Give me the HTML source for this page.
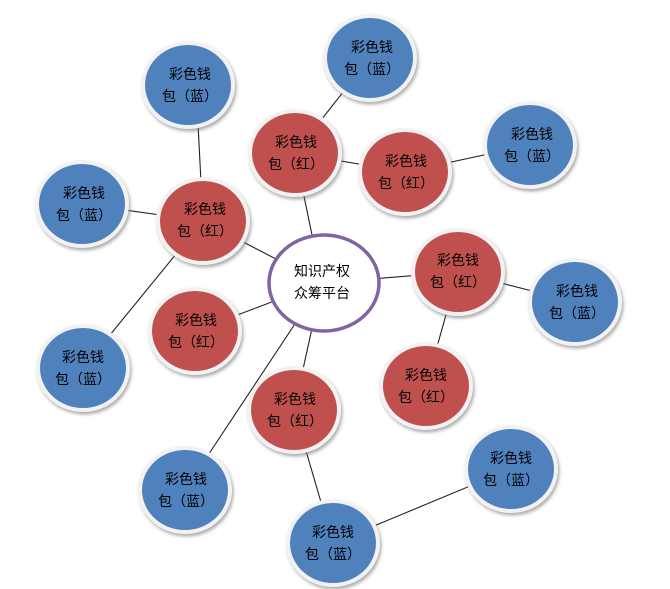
<!DOCTYPE html>
<html><head><meta charset="utf-8"><style>
html,body{margin:0;padding:0;background:#fff;width:670px;height:589px;overflow:hidden}
text{font-family:"Noto Sans CJK SC","WenQuanYi Zen Hei",sans-serif;font-size:14px;fill:#000}
</style></head><body>
<svg width="670" height="589" viewBox="0 0 670 589">
<defs>
<filter id="sh" x="-20%" y="-20%" width="150%" height="150%"><feDropShadow dx="1.5" dy="2.5" stdDeviation="1.5" flood-color="#777" flood-opacity="0.6"/></filter>
</defs>
<g stroke="#222" stroke-width="1.1">
<line x1="322" y1="283" x2="295" y2="153"/>
<line x1="295" y1="153" x2="370" y2="58"/>
<line x1="295" y1="153" x2="405" y2="172"/>
<line x1="405" y1="172" x2="530" y2="145"/>
<line x1="322" y1="283" x2="203" y2="221"/>
<line x1="203" y1="221" x2="196" y2="85"/>
<line x1="203" y1="221" x2="82" y2="204"/>
<line x1="203" y1="221" x2="83" y2="368"/>
<line x1="322" y1="283" x2="195" y2="331"/>
<line x1="322" y1="283" x2="458" y2="272"/>
<line x1="458" y1="272" x2="575" y2="302"/>
<line x1="458" y1="272" x2="426" y2="386"/>
<line x1="322" y1="283" x2="294" y2="410"/>
<line x1="322" y1="283" x2="185" y2="490"/>
<line x1="294" y1="410" x2="333" y2="543"/>
<line x1="333" y1="543" x2="511" y2="469"/>
</g>
<g filter="url(#sh)" fill="#f2f2f2">
<ellipse cx="370" cy="58" rx="47" ry="44"/>
<ellipse cx="188" cy="85" rx="47" ry="44"/>
<ellipse cx="530" cy="145" rx="47" ry="44"/>
<ellipse cx="82" cy="204" rx="47" ry="44"/>
<ellipse cx="575" cy="302" rx="47" ry="44"/>
<ellipse cx="83" cy="368" rx="47" ry="44"/>
<ellipse cx="185" cy="490" rx="47" ry="44"/>
<ellipse cx="511" cy="469" rx="47" ry="44"/>
<ellipse cx="333" cy="543" rx="47" ry="44"/>
<ellipse cx="295" cy="153" rx="47" ry="44"/>
<ellipse cx="405" cy="172" rx="47" ry="44"/>
<ellipse cx="203" cy="221" rx="47" ry="44"/>
<ellipse cx="458" cy="272" rx="47" ry="44"/>
<ellipse cx="195" cy="331" rx="47" ry="44"/>
<ellipse cx="426" cy="386" rx="47" ry="44"/>
<ellipse cx="294" cy="410" rx="47" ry="44"/>
</g>
<g fill="#4f81bd">
<ellipse cx="370" cy="58" rx="43" ry="40"/>
<ellipse cx="188" cy="85" rx="43" ry="40"/>
<ellipse cx="530" cy="145" rx="43" ry="40"/>
<ellipse cx="82" cy="204" rx="43" ry="40"/>
<ellipse cx="575" cy="302" rx="43" ry="40"/>
<ellipse cx="83" cy="368" rx="43" ry="40"/>
<ellipse cx="185" cy="490" rx="43" ry="40"/>
<ellipse cx="511" cy="469" rx="43" ry="40"/>
<ellipse cx="333" cy="543" rx="43" ry="40"/>
</g>
<g fill="#c0504d">
<ellipse cx="295" cy="153" rx="43" ry="40"/>
<ellipse cx="405" cy="172" rx="43" ry="40"/>
<ellipse cx="203" cy="221" rx="43" ry="40"/>
<ellipse cx="458" cy="272" rx="43" ry="40"/>
<ellipse cx="195" cy="331" rx="43" ry="40"/>
<ellipse cx="426" cy="386" rx="43" ry="40"/>
<ellipse cx="294" cy="410" rx="43" ry="40"/>
</g>
<ellipse cx="324" cy="283" rx="55" ry="48" fill="#fff" stroke="#8064a2" stroke-width="3.5"/>
<g text-anchor="middle">
<text x="372" y="52">彩色钱</text><text x="372" y="74">包（蓝）</text>
<text x="190" y="79">彩色钱</text><text x="190" y="101">包（蓝）</text>
<text x="532" y="139">彩色钱</text><text x="532" y="161">包（蓝）</text>
<text x="84" y="198">彩色钱</text><text x="84" y="220">包（蓝）</text>
<text x="577" y="296">彩色钱</text><text x="577" y="318">包（蓝）</text>
<text x="83" y="362">彩色钱</text><text x="83" y="384">包（蓝）</text>
<text x="186" y="484">彩色钱</text><text x="186" y="506">包（蓝）</text>
<text x="511" y="463">彩色钱</text><text x="511" y="485">包（蓝）</text>
<text x="333" y="537">彩色钱</text><text x="333" y="559">包（蓝）</text>
<text x="296" y="147">彩色钱</text><text x="296" y="169">包（红）</text>
<text x="406" y="166">彩色钱</text><text x="406" y="188">包（红）</text>
<text x="205" y="214">彩色钱</text><text x="205" y="236">包（红）</text>
<text x="458" y="265">彩色钱</text><text x="458" y="287">包（红）</text>
<text x="196" y="325">彩色钱</text><text x="196" y="347">包（红）</text>
<text x="426" y="380">彩色钱</text><text x="426" y="402">包（红）</text>
<text x="295" y="404">彩色钱</text><text x="295" y="426">包（红）</text>
<text x="322" y="276">知识产权</text><text x="322" y="298">众筹平台</text>
</g>
</svg>
</body></html>
